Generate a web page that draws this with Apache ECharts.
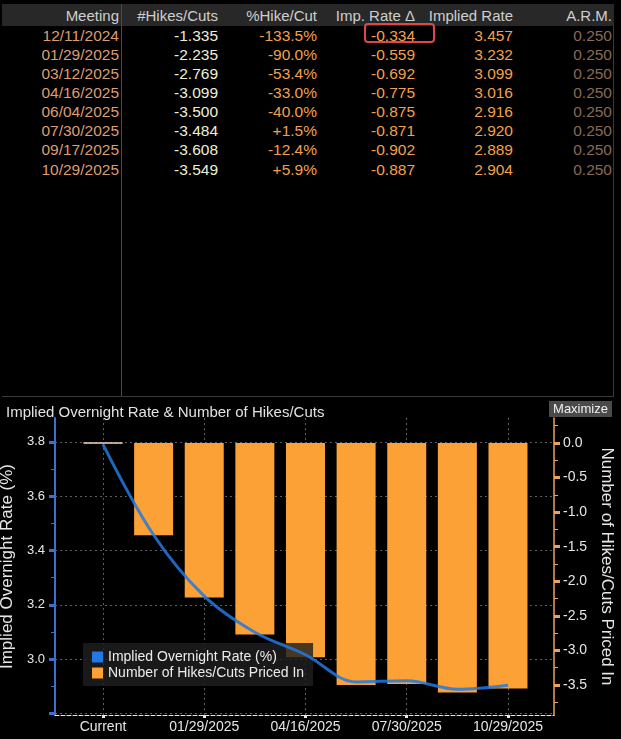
<!DOCTYPE html>
<html>
<head>
<meta charset="utf-8">
<script src="https://cdn.jsdelivr.net/npm/echarts@6/dist/echarts.min.js"></script>
<style>
  html, body { margin:0; padding:0; background:#000; width:621px; height:739px; overflow:hidden; font-family:'Liberation Sans', Arial, sans-serif; }
  #table { position:absolute; left:0; top:0; width:621px; height:397px; }
  .cell { position:absolute; white-space:nowrap; font-size:15.5px; line-height:19px; }
  #chart { position:absolute; left:0; top:397px; width:621px; height:342px; }
</style>
</head>
<body>
<div id="table"></div>
<div id="chart"></div>
<script>
// ---- data ----
const meetings = ['12/11/2024','01/29/2025','03/12/2025','04/16/2025','06/04/2025','07/30/2025','09/17/2025','10/29/2025'];
const hikesCuts = [-1.335,-2.235,-2.769,-3.099,-3.500,-3.484,-3.608,-3.549];
const pctHikeCut = [-133.5,-90.0,-53.4,-33.0,-40.0,1.5,-12.4,5.9];
const impRateDelta = [-0.334,-0.559,-0.692,-0.775,-0.875,-0.871,-0.902,-0.887];
const impliedRate = [3.457,3.232,3.099,3.016,2.916,2.920,2.889,2.904];
const arm = [0.250,0.250,0.250,0.250,0.250,0.250,0.250,0.250];
const currentRate = 3.791;
const currentLabel = 'Current';
const tableHeaders = ['Meeting','#Hikes/Cuts','%Hike/Cut','Imp. Rate \u0394','Implied Rate','A.R.M.'];
const leftTicks = [2.8,3.0,3.2,3.4,3.6,3.8];
const leftLabels = [3.0,3.2,3.4,3.6,3.8];
const leftMinor = [2.9,3.1,3.3,3.5,3.7];
const rightTicks = [0.0,-0.5,-1.0,-1.5,-2.0,-2.5,-3.0,-3.5];
const rightMinor = [0.25,-0.25,-0.75,-1.25,-1.75,-2.25,-2.75,-3.25,-3.75];
const xLabelIdx = [0,2,4,6,8];

// ---- table ----
const tbl = document.getElementById('table');
function add(html, style) { const d=document.createElement('div'); d.className='cell'; d.textContent=html; Object.assign(d.style, style); tbl.appendChild(d); return d; }
function box(style){ const d=document.createElement('div'); d.style.position='absolute'; Object.assign(d.style, style); tbl.appendChild(d); }
box({left:'2px', top:'4px', width:'612px', height:'22px', background:'#282828'});
box({left:'121px', top:'4px', width:'1px', height:'393px', background:'#4a4a4a'});
box({left:'613px', top:'26px', width:'1px', height:'371px', background:'#3a3a3a'});
box({left:'2px', top:'396px', width:'612px', height:'1px', background:'#3a3a3a'});
const fmt3 = v => v.toFixed(3);
const cols = [
  {right:119, vals: meetings.map(s=>s), color:'#dd9d72'},
  {right:218, vals: hikesCuts.map(fmt3), color:'#efeed8'},
  {right:317, vals: pctHikeCut.map(v=>(v>0?'+':'')+v.toFixed(1)+'%'), color:'#f3a04e'},
  {right:415, vals: impRateDelta.map(fmt3), color:'#f3a04e'},
  {right:513, vals: impliedRate.map(fmt3), color:'#f3a04e'},
  {right:612, vals: arm.map(fmt3), color:'#8a6a52'}
];
cols.forEach((c,ci)=>{
  add(tableHeaders[ci], {right:(621-c.right)+'px', top:'6px', color:'#cfcfcf', fontSize:'15px'});
  c.vals.forEach((v,ri)=>{
    add(v, {right:(621-c.right)+'px', top:(25.5+ri*19.15)+'px', color:c.color});
  });
});
box({left:'364px', top:'23px', width:'67px', height:'16px', border:'2px solid #e0474c', borderRadius:'4px'});

// ---- chart ----
const categories = [currentLabel].concat(meetings);
const rateSeries = [currentRate].concat(impliedRate);
const barSeries = [0].concat(hikesCuts);

const chart = echarts.init(document.getElementById('chart'), null, {renderer:'canvas'});
const FONT = "'Liberation Sans', Arial, sans-serif";
const gridTop = 21, gridBottom = 24, gridLeft = 55, gridRight = 67;
const leftMin = 2.794, leftMax = 3.888;
const rightMin = -3.934, rightMax = 0.362;
const xMin = -0.948, xMax = 8.909;

chart.setOption({
  backgroundColor:'#000',
  animation:false,
  title:{ text:'Implied Overnight Rate & Number of Hikes/Cuts', left:1, top:3,
    textStyle:{ color:'#e2e2e2', fontSize:15, fontWeight:'normal', fontFamily:FONT } },
  graphic:[{ type:'group', left:549, top:4, children:[
    { type:'rect', shape:{x:0,y:0,width:63,height:16}, style:{fill:'#4a4a4a'} },
    { type:'text', x:31.5, y:8, style:{text:'Maximize', fill:'#f0f0f0', font:"13px "+FONT, align:'center', verticalAlign:'middle'} }
  ]}],
  legend:{ orient:'vertical', left:83, top:246, padding:[7,9,6,9], itemGap:2,
    backgroundColor:'rgba(30,30,30,0.82)', itemWidth:11, itemHeight:11,
    textStyle:{ color:'#ececec', fontSize:14, fontFamily:FONT },
    data:[
      { name:'Implied Overnight Rate (%)', icon:'rect', itemStyle:{color:'#2179e3'} },
      { name:'Number of Hikes/Cuts Priced In', icon:'rect', itemStyle:{color:'#fba135'} }
    ] },
  grid:{ left:gridLeft, right:gridRight, top:gridTop, bottom:gridBottom, containLabel:false, outerBoundsMode:'none' },
  xAxis:{ type:'value', min:xMin, max:xMax,
    axisLine:{ show:true, onZero:false, lineStyle:{ color:'#e8e8e8', type:'dashed', width:1 } },
    axisTick:{ show:true, customValues:xLabelIdx, length:3, lineStyle:{color:'#e8e8e8', width:3} },
    axisLabel:{ customValues:xLabelIdx, color:'#e6e6e6', fontSize:14, fontFamily:FONT, margin:5,
      formatter: v => categories[Math.round(v)] },
    splitLine:{ show:true, lineStyle:{ color:'#5e5e5e', type:[2,3], width:1 } } },
  yAxis:[
    { type:'value', position:'left', min:leftMin, max:leftMax,
      name:'Implied Overnight Rate (%)', nameLocation:'middle', nameGap:31, nameRotate:90,
      nameTextStyle:{ color:'#e6e6e6', fontSize:17, fontFamily:FONT },
      axisLine:{ show:true, onZero:false, lineStyle:{ color:'#3b70cc', width:2 } },
      axisTick:{ show:true, customValues:leftTicks, length:6, lineStyle:{color:'#3b70cc', width:3} },
      axisLabel:{ customValues:leftLabels, color:'#e6e6e6', fontSize:13, fontFamily:FONT, margin:10,
        formatter: v => v.toFixed(1) },
      splitLine:{ show:true, lineStyle:{ color:'#5e5e5e', type:[2,3], width:1 } } },
    { type:'value', position:'right', min:rightMin, max:rightMax,
      name:'Number of Hikes/Cuts Priced In', nameLocation:'middle', nameGap:40, nameRotate:-90,
      nameTextStyle:{ color:'#e6e6e6', fontSize:17, fontFamily:FONT },
      axisLine:{ show:true, onZero:false, lineStyle:{ color:'#e9a45e', width:1.5 } },
      axisTick:{ show:true, customValues:rightTicks, length:6, lineStyle:{color:'#e9a45e', width:3} },
      axisLabel:{ customValues:rightTicks, color:'#e6e6e6', fontSize:14, fontFamily:FONT, margin:9,
        formatter: v => v.toFixed(1) },
      splitLine:{ show:false } },
    { type:'value', position:'left', min:leftMin, max:leftMax,
      axisLine:{ show:false, onZero:false }, axisLabel:{ show:false }, splitLine:{ show:false },
      axisTick:{ show:true, customValues:leftMinor, length:4, lineStyle:{color:'#3b70cc', width:1} } },
    { type:'value', position:'right', min:rightMin, max:rightMax,
      axisLine:{ show:false, onZero:false }, axisLabel:{ show:false }, splitLine:{ show:false },
      axisTick:{ show:true, customValues:rightMinor, length:4, lineStyle:{color:'#e9a45e', width:1} } }
  ],
  series:[
    { name:'Number of Hikes/Cuts Priced In', type:'bar', yAxisIndex:1, barWidth:39,
      itemStyle:{ color:'#fba135' },
      data: barSeries.map((v,i)=> i===0
        ? { value:[i,v], itemStyle:{ color:'#fba135', borderColor:'#f2d6b8', borderWidth:1 } }
        : { value:[i,v] }) },
    { name:'Implied Overnight Rate (%)', type:'line', yAxisIndex:0, smooth:0.35,
      showSymbol:false, z:5,
      lineStyle:{ color:'#2179e3', width:3, opacity:0.85 },
      itemStyle:{ color:'#2179e3' },
      data: rateSeries.map((v,i)=>[i,v]) }
  ]
});
</script>
</body>
</html>
